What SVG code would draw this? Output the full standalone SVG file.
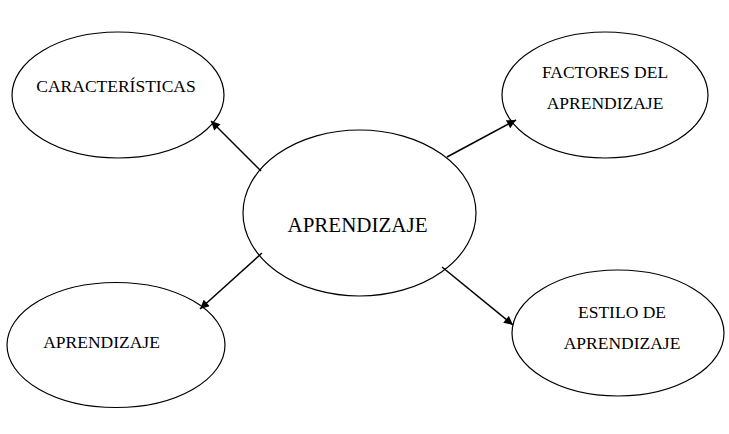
<svg xmlns="http://www.w3.org/2000/svg" width="729" height="434" viewBox="0 0 729 434">
<style>
.node ellipse{fill:#fff;stroke:#000;stroke-width:1.2}
.node text{font-family:"Liberation Serif","Times New Roman",serif;fill:#000;text-anchor:middle}
.edge{stroke:#000;stroke-width:1.5;fill:none;marker-end:url(#arr)}
</style>
<defs>
<marker id="arr" viewBox="0 0 10 10" refX="10" refY="5" markerWidth="10" markerHeight="9" markerUnits="userSpaceOnUse" orient="auto">
<path d="M0,0 L10,5 L0,10 z" fill="#000"/>
</marker>
</defs>
<rect width="729" height="434" fill="#fff"/>
<g id="node-caracteristicas" class="node">
<ellipse cx="118" cy="95" rx="106" ry="63"/>
<text x="116" y="92" font-size="17.5">CARACTERÍSTICAS</text>
</g>
<g id="node-aprendizaje-central" class="node">
<ellipse cx="359.5" cy="213" rx="116.5" ry="83"/>
<text x="357.5" y="232" font-size="21">APRENDIZAJE</text>
</g>
<g id="node-factores" class="node">
<ellipse cx="605" cy="95" rx="103" ry="63"/>
<text x="605" y="78" font-size="17.5">FACTORES DEL</text>
<text x="605" y="109" font-size="17.5">APRENDIZAJE</text>
</g>
<g id="node-estilo" class="node">
<ellipse cx="618" cy="333" rx="106" ry="63"/>
<text x="622" y="318" font-size="17.5">ESTILO DE</text>
<text x="622" y="349" font-size="17.5">APRENDIZAJE</text>
</g>
<g id="node-aprendizaje" class="node">
<ellipse cx="116" cy="345" rx="109" ry="62.5"/>
<text x="101.5" y="348" font-size="17.5">APRENDIZAJE</text>
</g>
<g id="connectors">
<line class="edge" x1="261" y1="171" x2="211" y2="121"/>
<line class="edge" x1="447" y1="157" x2="516" y2="120"/>
<line class="edge" x1="262" y1="253" x2="200" y2="309"/>
<line class="edge" x1="442" y1="267" x2="513" y2="325"/>
</g>
</svg>
